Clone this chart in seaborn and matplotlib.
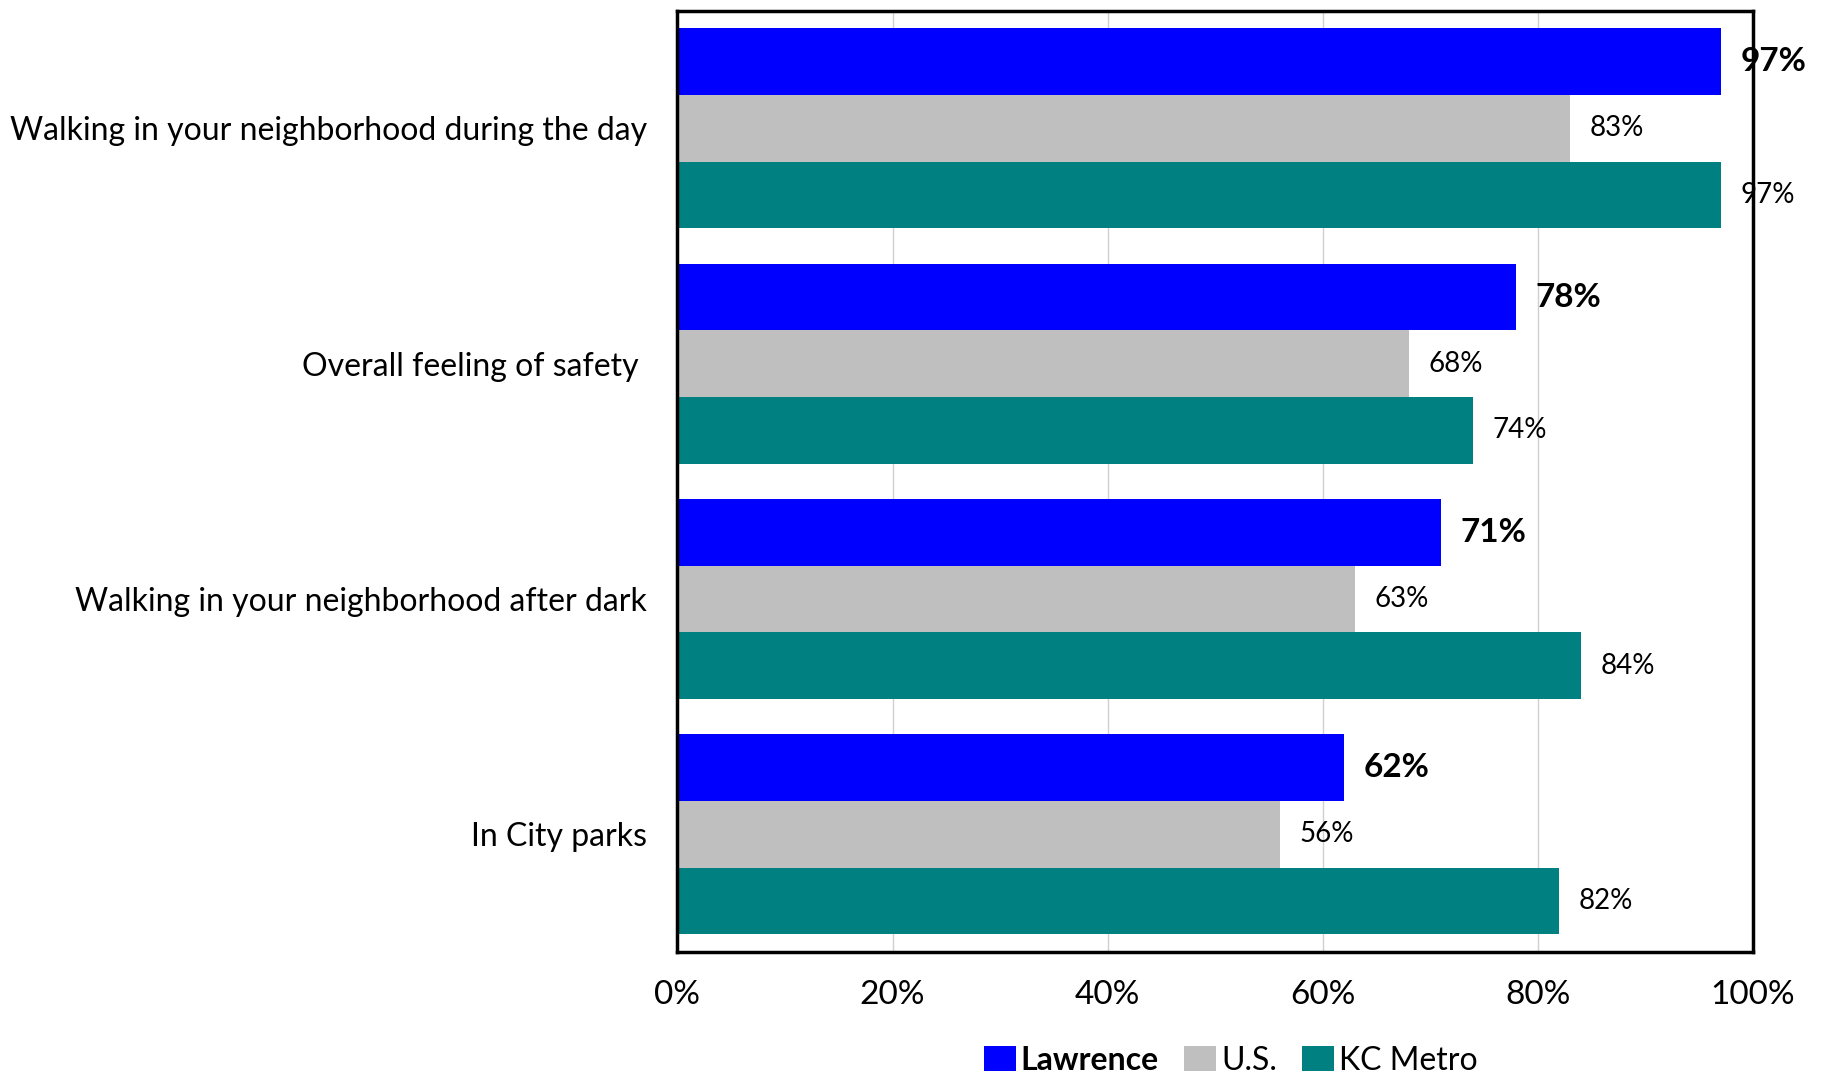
import matplotlib
matplotlib.use("Agg")
import matplotlib.pyplot as plt
import seaborn as sns
import pandas as pd

# data
categories = ["Walking in your neighborhood during the day",
              "Overall feeling of safety ",
              "Walking in your neighborhood after dark",
              "In City parks"]
series = ["Lawrence", "U.S.", "KC Metro"]
lawrence = [97, 78, 71, 62]
us = [83, 68, 63, 56]
kc_metro = [97, 74, 84, 82]
colors = ["#0000FF", "#BFBFBF", "#008080"]
x_ticks = [0, 20, 40, 60, 80, 100]

df = pd.DataFrame({
    "Category": categories * 3,
    "Series": [s for s in series for _ in categories],
    "Value": lawrence + us + kc_metro,
})

sns.set_style("white", {"text.color": "black", "xtick.color": "black",
                        "ytick.color": "black", "axes.labelcolor": "black"})
plt.rcParams['font.family'] = ['Lato', 'DejaVu Sans']

fig = plt.figure(figsize=(18.26, 10.78), dpi=100)
ax = fig.add_axes([0.371, 0.117, 0.589, 0.873])

sns.barplot(data=df, y="Category", x="Value", hue="Series", orient="h",
            palette=colors, width=0.85, gap=0, saturation=1, ax=ax,
            edgecolor="none", linewidth=0, legend=True)

ax.set_xlim(0, 100)
ax.set_ylim(3.5, -0.5)
ax.set_xticks(x_ticks)
ax.set_xticklabels([f"{t}%" for t in x_ticks], fontsize=24)
ax.tick_params(axis="x", length=0, pad=20, labelcolor="black")
ax.tick_params(axis="y", length=0, pad=22, labelsize=23, labelcolor="black")
ax.set_xlabel("")
ax.set_ylabel("")
ax.grid(axis="x", color="#D0D0D0", linewidth=1)
ax.set_axisbelow(True)
for sp in ax.spines.values():
    sp.set_visible(True)
    sp.set_color("black")
    sp.set_linewidth(2.5)

# value labels
for i, cont in enumerate(ax.containers):
    if i == 0:
        ax.bar_label(cont, labels=[f"{v}%" for v in lawrence], padding=14,
                     fontsize=24, fontweight="bold", color="black", clip_on=False)
    else:
        vals = us if i == 1 else kc_metro
        ax.bar_label(cont, labels=[f"{v}%" for v in vals], padding=14,
                     fontsize=20, color="black", clip_on=False)

ax.legend_.remove()
leg = fig.legend(handles=ax.containers, labels=series, loc="center",
                 bbox_to_anchor=(0.674, 0.016), ncol=3, frameon=False,
                 fontsize=23, handlelength=1.0, handleheight=0.8,
                 handletextpad=0.15, columnspacing=0.8, labelcolor="black")
leg.get_texts()[0].set_fontweight("bold")

fig.savefig("out.png", dpi=100)
